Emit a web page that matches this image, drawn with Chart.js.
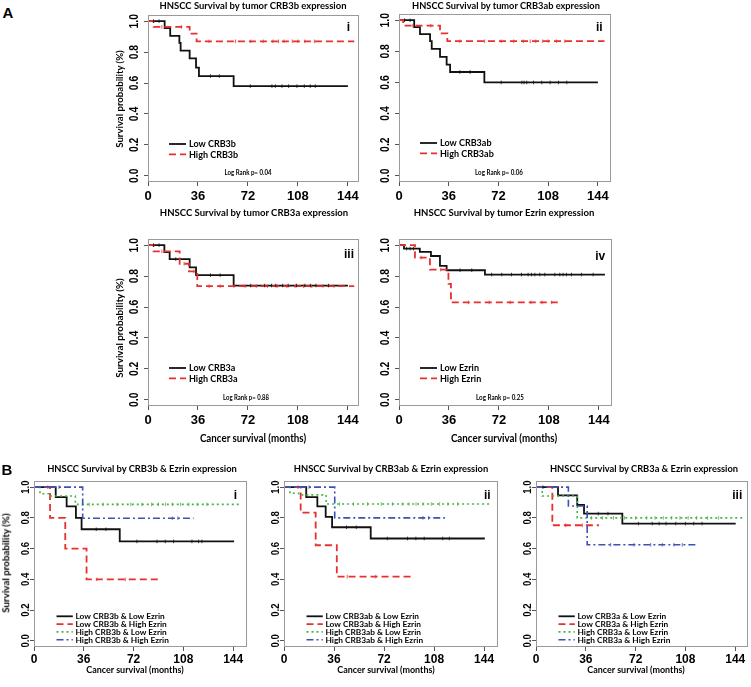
<!DOCTYPE html>
<html><head><meta charset="utf-8">
<script src="https://cdn.jsdelivr.net/npm/chart.js@4.4.1/dist/chart.umd.min.js"></script>
<style>
html,body{margin:0;padding:0;background:#fff;overflow:hidden;}
#wrap{position:relative;width:751px;height:687px;background:#fff;overflow:hidden;}
canvas{position:absolute;}
</style></head><body><div id="wrap"></div>
<script>
// ---------- axis ticks ----------
const xTickVals = [0, 36, 72, 108, 144];
const yTickVals = [0, 0.2, 0.4, 0.6, 0.8, 1.0];
const yTickLabels = ['0.0', '0.2', '0.4', '0.6', '0.8', '1.0'];

// ---------- Panel A-i : CRB3b ----------
const a1LowT = [0, 12, 16, 22.6, 23.5, 30, 34.6, 36.7, 61.7, 144];
const a1LowS = [1, 0.955, 0.905, 0.86, 0.81, 0.76, 0.70, 0.645, 0.58, 0.58];
const a1LowCT = [4, 8, 45, 51.4, 73.7, 89.3, 91.7, 96.5, 101.3, 107.3, 112.6, 116.9, 120.5];
const a1LowCS = [1, 1, 0.645, 0.645, 0.58, 0.58, 0.58, 0.58, 0.58, 0.58, 0.58, 0.58, 0.58];
const a1HighT = [0, 4, 30, 35, 148.6];
const a1HighS = [1, 0.963, 0.92, 0.87, 0.87];
const a1HighCT = [10, 24, 44, 63, 74, 83, 90, 94, 98, 104, 108, 113, 120];
const a1HighCS = [0.963, 0.963, 0.87, 0.87, 0.87, 0.87, 0.87, 0.87, 0.87, 0.87, 0.87, 0.87, 0.87];

// ---------- Panel A-ii : CRB3ab ----------
const a2LowT = [0, 11, 15.2, 22.5, 23.7, 29.7, 34.5, 37, 61.8, 144];
const a2LowS = [1, 0.955, 0.91, 0.866, 0.816, 0.765, 0.715, 0.667, 0.60, 0.60];
const a2LowCT = [4, 8, 44, 51.5, 74, 89, 90.6, 92.5, 97.4, 103.4, 109.4, 115.5, 121.5];
const a2LowCS = [1, 1, 0.667, 0.667, 0.6, 0.6, 0.6, 0.6, 0.6, 0.6, 0.6, 0.6, 0.6];
const a2HighT = [0, 3, 29.7, 35, 148.8];
const a2HighS = [1, 0.965, 0.915, 0.865, 0.865];
const a2HighCT = [10, 23, 44, 62, 74, 83, 90, 95, 99, 104, 108, 114, 120];
const a2HighCS = [0.965, 0.965, 0.865, 0.865, 0.865, 0.865, 0.865, 0.865, 0.865, 0.865, 0.865, 0.865, 0.865];

// ---------- Panel A-iii : CRB3a ----------
const a3LowT = [0, 11.8, 15.6, 30, 34.6, 61.7, 144];
const a3LowS = [1, 0.955, 0.91, 0.857, 0.806, 0.739, 0.739];
const a3LowCT = [4, 8, 20, 45, 52, 74, 84, 89, 92, 97, 101, 107, 113, 117, 121, 130];
const a3LowCS = [1, 1, 0.91, 0.806, 0.806, 0.739, 0.739, 0.739, 0.739, 0.739, 0.739, 0.739, 0.739, 0.739, 0.739, 0.739];
const a3HighT = [0, 4, 22.8, 29.5, 35.5, 148.6];
const a3HighS = [1, 0.96, 0.88, 0.83, 0.735, 0.735];
const a3HighCT = [10, 26, 33, 44, 52, 62, 70, 78, 86, 93, 100, 106, 112, 118, 126, 134];
const a3HighCS = [0.96, 0.88, 0.83, 0.735, 0.735, 0.735, 0.735, 0.735, 0.735, 0.735, 0.735, 0.735, 0.735, 0.735, 0.735, 0.735];

// ---------- Panel A-iv : Ezrin ----------
const a4LowT = [0, 3.6, 15, 23, 29.5, 34.3, 61.9, 148.3];
const a4LowS = [1, 0.978, 0.957, 0.93, 0.866, 0.838, 0.81, 0.81];
const a4LowCT = [5.5, 8, 10.4, 44, 52.4, 66.7, 74, 81, 88.2, 93, 95.4, 97.8, 101.4, 105, 112.2, 115.8, 118.2, 120.6, 124.2, 131.4, 139.8];
const a4LowCS = [0.978, 0.978, 0.978, 0.838, 0.838, 0.81, 0.81, 0.81, 0.81, 0.81, 0.81, 0.81, 0.81, 0.81, 0.81, 0.81, 0.81, 0.81, 0.81, 0.81, 0.81];
const a4HighT = [0, 11.5, 22.3, 35.6, 37.4, 115.7];
const a4HighS = [1, 0.92, 0.842, 0.75, 0.63, 0.63];
const a4HighCT = [16, 30, 50, 65, 80, 95, 103, 110];
const a4HighCS = [0.92, 0.842, 0.63, 0.63, 0.63, 0.63, 0.63, 0.63];

// ---------- Panel B-i : CRB3b & Ezrin ----------
const b1LLT = [0, 15.7, 23.6, 30.3, 34.4, 62, 144.7];
const b1LLS = [1, 0.935, 0.875, 0.80, 0.726, 0.647, 0.647];
const b1LLCT = [45, 52, 74.4, 88.9, 94.9, 100.9, 114.2, 119, 121.4];
const b1LLCS = [0.726, 0.726, 0.647, 0.647, 0.647, 0.647, 0.647, 0.647, 0.647];
const b1LHT = [0, 11.6, 22.6, 38, 91.5];
const b1LHS = [1, 0.80, 0.60, 0.40, 0.40];
const b1LHCT = [45.5, 66];
const b1LHCS = [0.4, 0.4];
const b1HLT = [0, 4.3, 10.6, 29.9, 149];
const b1HLS = [1, 0.957, 0.942, 0.888, 0.888];
const b1HLCT = [40, 50, 60, 70, 78, 85, 90, 95, 100, 106, 112, 118, 125];
const b1HLCS = [0.888, 0.888, 0.888, 0.888, 0.888, 0.888, 0.888, 0.888, 0.888, 0.888, 0.888, 0.888, 0.888];
const b1HHT = [0, 35.2, 115.4];
const b1HHS = [1, 0.798, 0.798];
const b1HHCT = [10, 18, 100, 104];
const b1HHCS = [1, 1, 0.798, 0.798];

// ---------- Panel B-ii : CRB3ab & Ezrin ----------
const b2LLT = [0, 16, 24, 30, 34.6, 62.4, 144.5];
const b2LLS = [1, 0.935, 0.875, 0.806, 0.739, 0.666, 0.666];
const b2LLCT = [45, 52, 74.4, 88.9, 94.9, 100.9, 114.2, 119];
const b2LLCS = [0.739, 0.739, 0.666, 0.666, 0.666, 0.666, 0.666, 0.666];
const b2LHT = [0, 12, 22.8, 38, 92];
const b2LHS = [1, 0.834, 0.622, 0.418, 0.418];
const b2LHCT = [45.5, 66];
const b2LHCS = [0.418, 0.418];
const b2HLT = [0, 4.3, 10.6, 30.3, 149.3];
const b2HLS = [1, 0.96, 0.95, 0.89, 0.89];
const b2HLCT = [40, 50, 60, 70, 78, 85, 90, 95, 100, 106, 112, 118, 125];
const b2HLCS = [0.89, 0.89, 0.89, 0.89, 0.89, 0.89, 0.89, 0.89, 0.89, 0.89, 0.89, 0.89, 0.89];
const b2HHT = [0, 36.5, 115.8];
const b2HHS = [1, 0.80, 0.80];
const b2HHCT = [10, 18, 100, 104];
const b2HHCS = [1, 1, 0.80, 0.80];

// ---------- Panel B-iii : CRB3a & Ezrin ----------
const b3LLT = [0, 15.9, 29.8, 34.7, 62.4, 144.3];
const b3LLS = [1, 0.946, 0.884, 0.828, 0.763, 0.763];
const b3LLCT = [5, 45, 52, 74, 84, 89, 94, 101, 108, 114, 120];
const b3LLCS = [1, 0.828, 0.828, 0.763, 0.763, 0.763, 0.763, 0.763, 0.763, 0.763, 0.763];
const b3LHT = [0, 11.8, 45.5];
const b3LHS = [1, 0.752, 0.752];
const b3LHCT = [21.5, 33.5];
const b3LHCS = [0.752, 0.752];
const b3HLT = [0, 4.5, 29.8, 149];
const b3HLS = [1, 0.942, 0.80, 0.80];
const b3HLCT = [40, 48, 56, 64, 72, 80, 86, 92, 98, 104, 110, 116, 124, 132];
const b3HLCS = [0.8, 0.8, 0.8, 0.8, 0.8, 0.8, 0.8, 0.8, 0.8, 0.8, 0.8, 0.8, 0.8, 0.8];
const b3HHT = [0, 23.4, 37, 115.8];
const b3HHS = [1, 0.877, 0.625, 0.625];
const b3HHCT = [54, 70.8, 82.9, 91.3, 99.7, 105.7];
const b3HHCS = [0.625, 0.625, 0.625, 0.625, 0.625, 0.625];

// ---------- styles ----------
const STY = {
  low:  {color: '#111111', lw: 1.8, dash: []},
  high: {color: '#e8312e', lw: 1.8, dash: [7, 4]},
  hl:   {color: '#46b449', lw: 1.6, dash: [2, 3]},
  hh:   {color: '#3f51b5', lw: 1.6, dash: [7, 3, 2, 3]}
};

const wrap = document.getElementById('wrap');

function curve(label, t, s, ct, cs, sty) { return {label, t, s, ct, cs, sty}; }

const decor = {
  id: 'kmDecor',
  afterDraw(chart, args, o) {
    const ctx = chart.ctx, ca = chart.chartArea;
    ctx.save();
    // frame
    ctx.strokeStyle = '#9a9a9a'; ctx.lineWidth = 1;
    ctx.strokeRect(ca.left + 0.5, ca.top + 0.5, ca.right - ca.left - 1, ca.bottom - ca.top - 1);
    // y tick labels (rotated, R style)
    const ys = chart.scales.y;
    ctx.fillStyle = '#000';
    ctx.font = 'bold ' + o.yFont + 'px "Liberation Sans", Arial, sans-serif';
    ctx.textAlign = 'center'; ctx.textBaseline = 'middle';
    yTickVals.forEach((v, i) => {
      const py = ys.getPixelForValue(v);
      ctx.save();
      ctx.translate(ca.left - o.yOff, py);
      ctx.rotate(-Math.PI / 2);
      ctx.scale(o.yScale, 1);
      ctx.fillText(yTickLabels[i], 0, 0);
      ctx.restore();
    });
    // legend
    const lg = o.leg;
    chart.data.datasets.forEach(ds => {
      if (!ds.isCurve) return;
      const k = ds.legIdx;
      const y = ca.top + lg.y0 + k * lg.dy;
      ctx.save();
      ctx.strokeStyle = ds.borderColor; ctx.lineWidth = ds.borderWidth;
      ctx.setLineDash(ds.borderDash);
      ctx.beginPath();
      ctx.moveTo(ca.left + lg.x0, y); ctx.lineTo(ca.left + lg.x1, y);
      ctx.stroke();
      ctx.restore();
      ctx.fillStyle = '#000';
      ctx.font = 'bold ' + lg.size + 'px Lato, "Open Sans", sans-serif';
      ctx.textAlign = 'left'; ctx.textBaseline = 'middle';
      ctx.fillText(ds.label, ca.left + lg.tx, y + 0.5);
    });
    ctx.restore();
  }
};

function makePanel(p) {
  const [L, T, R, B] = p.box;
  const padL = 40, padT = 8, padR = 16, padB = 28;
  const W = R - L + padL + padR, H = B - T + padT + padB;
  const cv = document.createElement('canvas');
  cv.width = W; cv.height = H;
  cv.style.left = (L - padL) + 'px'; cv.style.top = (T - padT) + 'px';
  cv.style.width = W + 'px'; cv.style.height = H + 'px';
  wrap.appendChild(cv);
  const n = p.curves.length;
  const datasets = [];
  p.curves.forEach((c, i) => {
    datasets.push({
      type: 'line', label: c.label, isCurve: true, legIdx: i,
      data: c.t.map((t, j) => ({x: t, y: c.s[j]})),
      borderColor: c.sty.color, borderWidth: c.sty.lw, borderDash: c.sty.dash,
      stepped: true, pointRadius: 0, fill: false, order: n - i + 1
    });
  });
  p.curves.forEach((c) => {
    datasets.push({
      type: 'scatter', label: '', data: c.ct.map((t, j) => ({x: t, y: c.cs[j]})),
      pointStyle: 'line', rotation: 90, pointRadius: 1.8, pointHoverRadius: 1.8,
      borderColor: c.sty.color, backgroundColor: c.sty.color, borderWidth: 0.8, showLine: false, order: 0
    });
  });
  new Chart(cv, {
    type: 'line',
    data: {datasets},
    options: {
      responsive: false, animation: false, devicePixelRatio: 1, events: [],
      layout: {padding: {left: 0, top: padT, right: padR, bottom: 0}},
      plugins: {legend: {display: false}, tooltip: {enabled: false},
        kmDecor: {yFont: p.yFont, yOff: p.yOff, yScale: p.yScale, leg: p.leg}},
      scales: {
        x: {type: 'linear', min: 0, max: p.xMax,
          afterBuildTicks: s => { s.ticks = xTickVals.map(v => ({value: v})); },
          afterFit: s => { s.height = padB; },
          grid: {drawOnChartArea: false, drawTicks: true, tickLength: 4, color: '#555', lineWidth: 1},
          border: {display: false},
          ticks: {font: {family: '"Liberation Sans", Arial, sans-serif', weight: 'bold', size: p.xFont},
            color: '#000', padding: p.xPad, maxRotation: 0, minRotation: 0, autoSkip: false,
            callback: v => String(v)}},
        y: {type: 'linear', min: -0.04, max: 1.04,
          afterBuildTicks: s => { s.ticks = yTickVals.map(v => ({value: v})); },
          afterFit: s => { s.width = padL; },
          grid: {drawOnChartArea: false, drawTicks: true, tickLength: 4, color: '#555', lineWidth: 1},
          border: {display: false},
          ticks: {display: false}}
      }
    },
    plugins: [decor]
  });
}

const legA = {x0: 21, x1: 38, tx: 41, y0: 129, dy: 10.4, size: 9};
const legB = {x0: 22.5, x1: 38.8, tx: 41.5, y0: 135.3, dy: 7.8, size: 8.3};
const optA = {xFont: 13, xPad: 3, yFont: 13, yOff: 13.4, yScale: 0.8, leg: legA};
const optB = {xFont: 12, xPad: 1, yFont: 11.5, yOff: 8.4, yScale: 0.83, leg: legB};

makePanel(Object.assign({}, optA, {box: [148, 15, 359, 182], xMax: 152, curves: [
  curve('Low CRB3b', a1LowT, a1LowS, a1LowCT, a1LowCS, STY.low),
  curve('High CRB3b', a1HighT, a1HighS, a1HighCT, a1HighCS, STY.high)]}));
makePanel(Object.assign({}, optA, {box: [399, 14, 611, 182], xMax: 153.5, curves: [
  curve('Low CRB3ab', a2LowT, a2LowS, a2LowCT, a2LowCS, STY.low),
  curve('High CRB3ab', a2HighT, a2HighS, a2HighCT, a2HighCS, STY.high)]}));
makePanel(Object.assign({}, optA, {box: [148, 239, 359, 406], xMax: 152, curves: [
  curve('Low CRB3a', a3LowT, a3LowS, a3LowCT, a3LowCS, STY.low),
  curve('High CRB3a', a3HighT, a3HighS, a3HighCT, a3HighCS, STY.high)]}));
makePanel(Object.assign({}, optA, {box: [399, 239, 612, 406], xMax: 153.4, curves: [
  curve('Low Ezrin', a4LowT, a4LowS, a4LowCT, a4LowCS, STY.low),
  curve('High Ezrin', a4HighT, a4HighS, a4HighCT, a4HighCS, STY.high)]}));
makePanel(Object.assign({}, optB, {box: [34, 481, 247, 647], xMax: 154, curves: [
  curve('Low CRB3b & Low Ezrin', b1LLT, b1LLS, b1LLCT, b1LLCS, STY.low),
  curve('Low CRB3b & High Ezrin', b1LHT, b1LHS, b1LHCT, b1LHCS, STY.high),
  curve('High CRB3b & Low Ezrin', b1HLT, b1HLS, b1HLCT, b1HLCS, STY.hl),
  curve('High CRB3b & High Ezrin', b1HHT, b1HHS, b1HHCT, b1HHCS, STY.hh)]}));
makePanel(Object.assign({}, optB, {box: [284, 481, 498, 647], xMax: 154, curves: [
  curve('Low CRB3ab & Low Ezrin', b2LLT, b2LLS, b2LLCT, b2LLCS, STY.low),
  curve('Low CRB3ab & High Ezrin', b2LHT, b2LHS, b2LHCT, b2LHCS, STY.high),
  curve('High CRB3ab & Low Ezrin', b2HLT, b2HLS, b2HLCT, b2HLCS, STY.hl),
  curve('High CRB3ab & High Ezrin', b2HHT, b2HHS, b2HHCT, b2HHCS, STY.hh)]}));
makePanel(Object.assign({}, optB, {box: [536, 481, 748, 647], xMax: 153.2, curves: [
  curve('Low CRB3a & Low Ezrin', b3LLT, b3LLS, b3LLCT, b3LLCS, STY.low),
  curve('Low CRB3a & High Ezrin', b3LHT, b3LHS, b3LHCT, b3LHCS, STY.high),
  curve('High CRB3a & Low Ezrin', b3HLT, b3HLS, b3HLCT, b3HLCS, STY.hl),
  curve('High CRB3a & High Ezrin', b3HHT, b3HHS, b3HHCT, b3HHCS, STY.hh)]}));

// ---------- text labels ----------
function label(text, cx, cy, px, opt) {
  opt = opt || {};
  const d = document.createElement('div');
  d.textContent = text;
  const fam = opt.family || 'Lato, "Open Sans", sans-serif';
  d.style.cssText = 'position:absolute;left:' + cx + 'px;top:' + cy + 'px;font-weight:bold;font-size:' + px +
    'px;font-family:' + fam + ';white-space:nowrap;line-height:1;color:#000;';
  wrap.appendChild(d);
  let sx = 1;
  if (opt.w) sx = opt.w / d.offsetWidth;
  d.style.transform = 'translate(-50%,-50%) rotate(' + (opt.rot || 0) + 'deg) scaleX(' + sx + ')';
}
const ARIAL = '"Liberation Sans", Arial, sans-serif';
label('A', 8, 12, 15, {family: ARIAL});
label('B', 7, 469, 15, {family: ARIAL});

label('HNSCC Survival by tumor CRB3b expression', 253.3, 6, 9.5, {w: 187});
label('HNSCC Survival by tumor CRB3ab expression', 505.8, 6, 9.5, {w: 188});
label('HNSCC Survival by tumor CRB3a expression', 254, 213.3, 9.5, {w: 188});
label('HNSCC Survival by tumor Ezrin expression', 503.7, 213.3, 9.5, {w: 181});
label('HNSCC Survival by CRB3b & Ezrin expression', 141.7, 469.3, 9.5, {w: 190});
label('HNSCC Survival by CRB3ab & Ezrin expression', 390.8, 469.3, 9.5, {w: 195});
label('HNSCC Survival by CRB3a & Ezrin expression', 644, 469.3, 9.5, {w: 188});

label('Survival probability (%)', 120, 98.5, 9.5, {rot: -90, w: 98});
label('Survival probability (%)', 120, 327.5, 9.5, {rot: -90, w: 100});
label('Survival probability (%)', 6, 563, 9.5, {rot: -90, w: 100});

label('Cancer survival (months)', 253.3, 438.3, 10.5, {w: 106});
label('Cancer survival (months)', 504.3, 438.3, 10.5, {w: 106});
label('Cancer survival (months)', 134.7, 670, 9.5, {w: 97});
label('Cancer survival (months)', 385.7, 670, 9.5, {w: 97});
label('Cancer survival (months)', 636, 670, 9.5, {w: 97});

label('Log Rank p= 0.04', 247.8, 173.3, 6.5, {w: 47});
label('Log Rank p= 0.06', 498.7, 173.3, 6.5, {w: 48});
label('Log Rank p= 0.88', 246, 397.7, 6.5, {w: 46});
label('Log Rank p= 0.25', 499.5, 397.7, 6.5, {w: 48});

label('i', 348.3, 26.7, 12, {family: ARIAL});
label('ii', 599.3, 27.3, 12, {family: ARIAL});
label('iii', 349, 253.8, 12, {family: ARIAL});
label('iv', 600.3, 255.5, 12, {family: ARIAL});
label('i', 235.3, 495, 12, {family: ARIAL});
label('ii', 487.3, 495, 12, {family: ARIAL});
label('iii', 737.3, 495, 12, {family: ARIAL});
</script></body></html>
